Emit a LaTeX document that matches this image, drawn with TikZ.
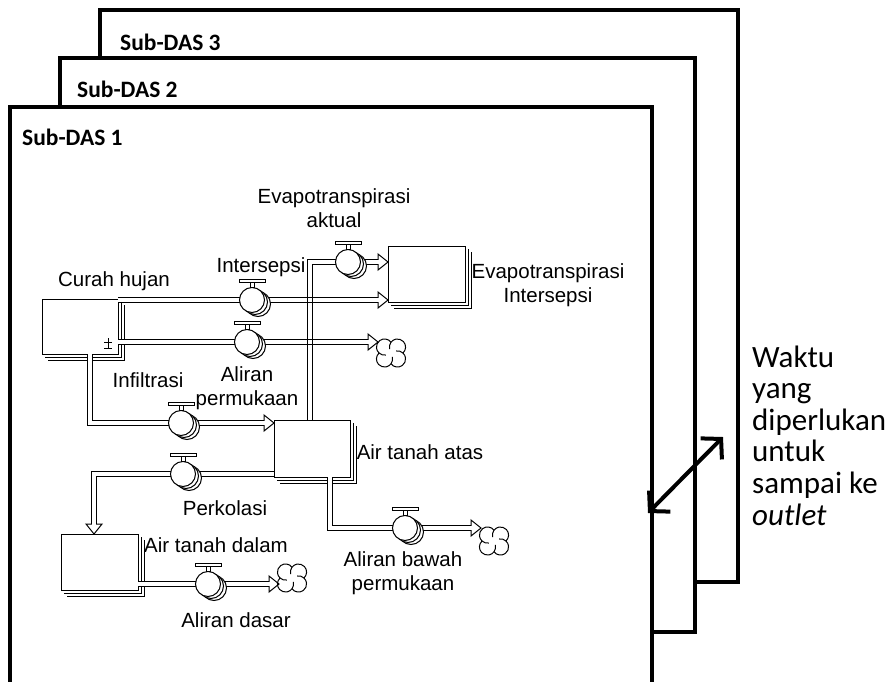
\documentclass[tikz,border=0pt]{standalone}
\usepackage{fontspec}
\setmainfont{Liberation Sans}
\newfontfamily\calf{Carlito}
\usetikzlibrary{arrows.meta}
\begin{document}
\begin{tikzpicture}[x=1pt,y=-1pt,
  frame/.style={line width=3.5pt, fill=white, draw=black},
  sublabel/.style={font=\calf\bfseries\fontsize{23.5}{27}\selectfont, anchor=west, inner sep=0},
  lbl/.style={font=\fontsize{20.5}{24}\selectfont, inner sep=0, align=center},
  rtxt/.style={font=\calf\fontsize{31}{34}\selectfont, anchor=base west, inner sep=0},
  stock/.style={draw, line width=1pt, fill=white, inner sep=0, outer sep=0},
  thinline/.style={line width=1pt},
  pipe/.style={draw, line width=1pt, double=white, double distance=3.2pt, shorten >=10pt},
  cloudbox/.style={minimum width=26pt, minimum height=27pt, inner sep=0, outer sep=0},
  cloudpic/.pic={
    \begin{scope}[yscale=-1, scale=1.08]
    \draw[thinline, fill=white] (11.1,0)
      arc[start angle=-47.2, end angle=143.1, radius=7.5]
      arc[start angle=36.9, end angle=227.2, radius=7.5]
      arc[start angle=132.8, end angle=323.1, radius=7.5]
      arc[start angle=216.9, end angle=407.2, radius=7.5] -- cycle;
    \draw[thinline] (0,10) arc[start angle=143.1, end angle=195, radius=7.5];
    \draw[thinline] (-11.1,0) arc[start angle=227.2, end angle=280, radius=7.5];
    \draw[thinline] (0,-10) arc[start angle=323.1, end angle=375, radius=7.5];
    \draw[thinline] (11.1,0) arc[start angle=47.2, end angle=100, radius=7.5];
    \end{scope}
  },
  valve/.pic={
    \draw[thinline, fill=white] (6,4) circle (12.5);
    \draw[thinline, fill=white] (3,2) circle (12.5);
    \draw[thinline, fill=white] (0,0) circle (12.5);
    \draw[thinline, fill=white] (-2,-12.5) rectangle (2,-17.5);
    \draw[thinline, fill=white] (-13,-17.5) rectangle (13,-20.5);
  },
  head/.pic={
    \draw[thinline] (-10,-2.1) -- (-10,-8) -- (0,0) -- (-10,8) -- (-10,2.1);
  }
]
\useasboundingbox (0,0) rectangle (894,681);
\clip (0,0) rectangle (894,681);
\fill[white] (0,0) rectangle (894,681);

% frames
\draw[frame] (100,10) rectangle (738,582);
\draw[frame] (60,58) rectangle (695,632);
\draw[frame] (10,107) rectangle (652,700);
\node[sublabel] (s3) at (120,42) {Sub-DAS 3};
\node[sublabel] (s2) at (77,89) {Sub-DAS 2};
\node[sublabel] (s1) at (22,137) {Sub-DAS 1};

% valve positions and corners
\coordinate (v1) at (252,300);
\coordinate (v2) at (247,342);
\coordinate (v3) at (348,262);
\coordinate (v4) at (181,423);
\coordinate (v5) at (183,474);
\coordinate (v6) at (405,528);
\coordinate (v7) at (208,584);
\coordinate (k3) at (310,262);
\coordinate (k4) at (90,423);
\coordinate (k5) at (94,474);
\coordinate (k6) at (330,528);

% stock shadows
\foreach \cx/\cy/\ww/\hh in {80/326.5/76/55, 426.5/274/77/56, 312/448.5/76/57, 99.5/562/77/56}{
  \foreach \d in {3,6}{
    \draw[thinline] (\cx-\ww/2+\d, \cy+\hh/2+\d) -- (\cx+\ww/2+\d, \cy+\hh/2+\d) -- (\cx+\ww/2+\d, \cy-\hh/2+\d);
  }
}

% stocks
\node[stock, minimum width=76pt, minimum height=55pt] (ch) at (80,326.5) {};
\node[stock, minimum width=77pt, minimum height=56pt] (ei) at (426.5,274) {};
\node[stock, minimum width=76pt, minimum height=57pt] (ata) at (312,448.5) {};
\node[stock, minimum width=77pt, minimum height=56pt] (atd) at (99.5,562) {};

% clouds
\node[cloudbox] (c1) at (391,353) {};
\node[cloudbox] (c2) at (494,541) {};
\node[cloudbox] (c3) at (292,578) {};
\foreach \c in {c1,c2,c3}{ \pic at (\c) {cloudpic}; }

% pipes
\draw[pipe] (ch.east |- v1) -- (ei.west |- v1);
\pic at (ei.west |- v1) {head};
\draw[pipe] (ch.east |- v2) -- (c1.west |- v2);
\pic at (c1.west |- v2) {head};
\draw[pipe] (ata.north -| k3) -- (k3) -- (ei.west |- k3);
\pic at (ei.west |- k3) {head};
% crossings
\draw[thinline] (305,297.9) -- (315,297.9) (305,302.1) -- (315,302.1);
\draw[thinline] (305,339.9) -- (315,339.9) (305,344.1) -- (315,344.1);
\draw[pipe] (ch.south -| k4) -- (k4) -- (ata.west |- k4);
\pic at (ata.west |- k4) {head};
\draw[pipe] (ata.west |- v5) -- (k5) -- (k5 |- atd.north);
\pic[rotate=-90] at (k5 |- atd.north) {head};
\draw[pipe] (ata.south -| k6) -- (k6) -- (c2.west |- k6);
\pic at (c2.west |- k6) {head};
\draw[pipe] (atd.east |- v7) -- (c3.west |- v7);
\pic at (c3.west |- v7) {head};

% valves
\foreach \v in {v1,v2,v3,v4,v5,v6,v7}{ \pic at (\v) {valve}; }

% sign in Curah hujan
\draw[thinline] (104,342) -- (112,342) (108,338) -- (108,348) (104,348) -- (112,348);

% labels
\node[lbl] (lch) at (114,281) {Curah hujan};
\node[lbl] (lint) at (261,267) {Intersepsi};
\node[lbl] (lea) at (334,208.5) {Evapotranspirasi\\aktual};
\node[lbl] (lei) at (548,285.5) {Evapotranspirasi\\Intersepsi};
\node[lbl] (linf) at (148,380) {Infiltrasi};
\node[lbl] (lap) at (247,388) {Aliran\\permukaan};
\node[lbl] (lata) at (420,452) {Air tanah atas};
\node[lbl] (lperk) at (225,508) {Perkolasi};
\node[lbl] (latd) at (216,545) {Air tanah dalam};
\node[lbl] (lad) at (236,620) {Aliran dasar};
\node[lbl] (lab) at (403,573.5) {Aliran bawah\\permukaan};

% right text and arrow
\node[rtxt] (w1) at (752,367) {Waktu};
\node[rtxt] (w2) at (752,398.6) {yang};
\node[rtxt] (w3) at (752,430.2) {diperlukan};
\node[rtxt] (w4) at (752,461.8) {untuk};
\node[rtxt] (w5) at (752,493.4) {sampai ke};
\node[rtxt] (w6) at (752,525) {\textit{outlet}};
\coordinate (a1) at (648,513);
\coordinate (a2) at (723,437);
\draw[line width=4pt, {Straight Barb[length=14pt,width=30pt]}-{Straight Barb[length=14pt,width=30pt]}] (a1) -- (a2);
\end{tikzpicture}
\end{document}
